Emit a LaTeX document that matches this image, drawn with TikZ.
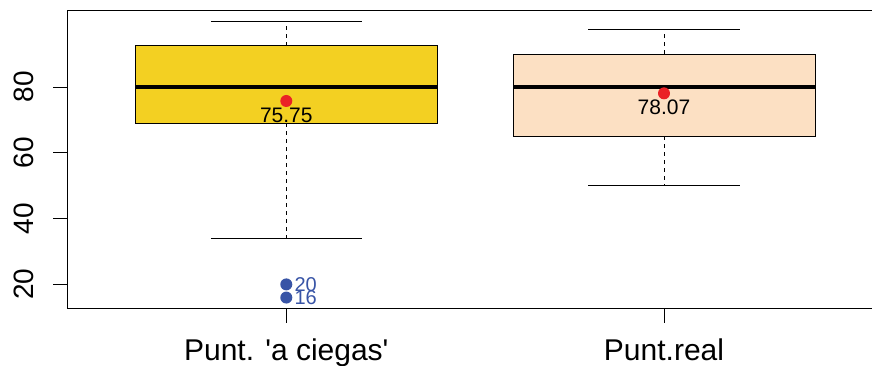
\documentclass[tikz,border=0pt]{standalone}
\usepackage{fontspec}
\setmainfont{Liberation Sans}
\definecolor{oro}{RGB}{243,208,34}
\definecolor{bisque}{RGB}{252,224,195}
\definecolor{rojomedia}{RGB}{234,34,38}
\definecolor{azulatip}{RGB}{56,84,166}
\begin{document}
\begin{tikzpicture}
	\tikzstyle{caja} = [draw=black, line width=0.8pt]
	\tikzstyle{bigote} = [draw=black, line width=0.8pt, dash pattern=on 4pt off 4pt]
	\tikzstyle{tope} = [draw=black, line width=0.8pt]
	\tikzstyle{mediana} = [draw=black, line width=3.5pt]
	\tikzstyle{media} = [fill=rojomedia]
	\tikzstyle{atipico} = [fill=azulatip]
	\tikzstyle{etiq} = [font=\fontsize{21}{24}\selectfont, inner sep=0pt]
	\tikzstyle{etiqat} = [font=\fontsize{20}{23}\selectfont, inner sep=0pt, text=azulatip, anchor=west]
	\tikzstyle{ejey} = [font=\fontsize{28}{32}\selectfont, inner sep=0pt, rotate=90, anchor=base]
	\tikzstyle{ejex} = [font=\fontsize{30}{34}\selectfont, inner sep=0pt, anchor=base]

	\useasboundingbox (0,0) rectangle (872pt,366pt);
	\clip (0,0) rectangle (872pt,366pt);

	\begin{scope}[x=377.7pt, y=3.29pt, xshift=-91.4pt, yshift=15.8pt]
	% marco
	\draw[line width=0.9pt] (2.7,103.36) -- (0.42,103.36) -- (0.42,12.64) -- (2.7,12.64);
	% eje y
	\foreach \v in {20,40,60,80} {
		\draw[line width=0.8pt] (0.42,\v) -- ++(-14.5pt,0);
		\node[ejey] (ty\v) at ([xshift=-34pt]0.42,\v) {\v};
	}
	% eje x
	\draw[line width=0.8pt] (1,12.64) -- ++(0,-14.5pt);
	\draw[line width=0.8pt] (2,12.64) -- ++(0,-14.5pt);
	\node[ejex] (tx1) at ([yshift=-51.5pt]1,12.64) {Punt. \textquotesingle a ciegas\textquotesingle};
	\node[ejex] (tx2) at ([yshift=-51.5pt]2,12.64) {Punt.real};

	% caja 1
	\draw[bigote] (1,92.5) -- (1,100);
	\draw[bigote] (1,69) -- (1,34);
	\draw[tope] (0.8,100) -- (1.2,100);
	\draw[tope] (0.8,34) -- (1.2,34);
	\draw[caja, fill=oro] (0.6,69) rectangle (1.4,92.5);
	\draw[mediana] (0.6,80) -- (1.4,80);
	\fill[media] (1,75.75) circle (6pt);
	\node[etiq] (m1) at (1,71.45) {75.75};
	\fill[atipico] (1,20) circle (6pt);
	\fill[atipico] (1,16) circle (6pt);
	\node[etiqat] (o20) at ([xshift=8pt]1,20) {20};
	\node[etiqat] (o16) at ([xshift=8pt]1,16) {16};

	% caja 2
	\draw[bigote] (2,90) -- (2,97.5);
	\draw[bigote] (2,65) -- (2,50);
	\draw[tope] (1.8,97.5) -- (2.2,97.5);
	\draw[tope] (1.8,50) -- (2.2,50);
	\draw[caja, fill=bisque] (1.6,65) rectangle (2.4,90);
	\draw[mediana] (1.6,80) -- (2.4,80);
	\fill[media] (2,78.07) circle (6pt);
	\node[etiq] (m2) at (2,73.85) {78.07};
	\end{scope}
\end{tikzpicture}
\end{document}
